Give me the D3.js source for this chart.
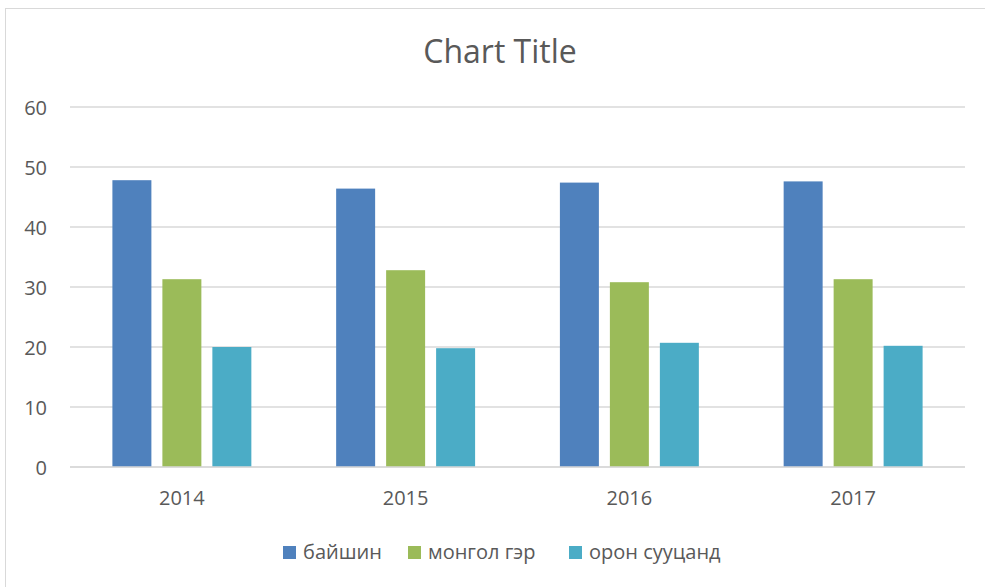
<!DOCTYPE html>
<html>
<head>
<meta charset="utf-8">
<script src="https://cdn.jsdelivr.net/npm/d3@7"></script>
<style>
  body { margin: 0; background: #fff; }
  text { font-family: "Open Sans", sans-serif; fill: #595959; }
</style>
</head>
<body>
<div id="chart"></div>
<script>
// data
const years = ["2014", "2015", "2016", "2017"];
const seriesNames = ["байшин", "монгол гэр", "орон сууцанд"];
const baishin = [47.8, 46.4, 47.4, 47.6];
const mongolGer = [31.3, 32.8, 30.8, 31.3];
const oronSuuts = [20.0, 19.8, 20.7, 20.2];
const yTicks = [0, 10, 20, 30, 40, 50, 60];

const seriesValues = [baishin, mongolGer, oronSuuts];
const colors = ["#4f81bd", "#9bbb59", "#4bacc6"];

const width = 985, height = 587;
const plotLeft = 70, plotRight = 965, plotTop = 107, plotBottom = 467;

const svg = d3.select("#chart").append("svg")
    .attr("width", width)
    .attr("height", height);

// chart area outline
svg.append("rect")
    .attr("x", 5.5).attr("y", 8.5)
    .attr("width", 1000).attr("height", 1000)
    .attr("fill", "none")
    .attr("stroke", "#d9d9d9")
    .attr("stroke-width", 1);

svg.append("text")
    .attr("x", 500)
    .attr("y", 63)
    .attr("text-anchor", "middle")
    .style("font-size", "32px")
    .text("Chart Title");

const y = d3.scaleLinear().domain([0, 60]).range([plotBottom, plotTop]);
const x0 = d3.scaleBand().domain(years).range([plotLeft, plotRight]).padding(0);
const x1 = d3.scaleBand().domain(seriesNames)
    .range([42.4, x0.bandwidth() - 42.4])
    .paddingInner(0.22);

// gridlines
svg.append("g")
    .selectAll("line")
    .data(yTicks)
    .join("line")
    .attr("x1", plotLeft).attr("x2", plotRight)
    .attr("y1", d => y(d)).attr("y2", d => y(d))
    .attr("stroke", "#d9d9d9")
    .attr("stroke-width", 1.3);

// y axis labels
const yAxis = svg.append("g")
    .attr("transform", `translate(${plotLeft - 23},0)`)
    .call(d3.axisLeft(y).tickValues(yTicks).tickSize(0).tickPadding(0));
yAxis.select(".domain").remove();
yAxis.selectAll("text")
    .attr("dy", "0.35em")
    .style("font-size", "20px")
    .style("font-family", "Open Sans, sans-serif")
    .attr("fill", "#595959");

// bars
const groups = svg.append("g")
    .selectAll("g")
    .data(years)
    .join("g")
    .attr("transform", d => `translate(${x0(d)},0)`);

groups.selectAll("rect")
    .data((yr, i) => seriesNames.map((s, j) => ({ s, v: seriesValues[j][i], c: colors[j] })))
    .join("rect")
    .attr("x", d => x1(d.s))
    .attr("width", x1.bandwidth())
    .attr("y", d => y(d.v))
    .attr("height", d => y(0) - y(d.v))
    .attr("fill", d => d.c);

// x axis line + labels
svg.append("line")
    .attr("x1", plotLeft).attr("x2", plotRight)
    .attr("y1", y(0)).attr("y2", y(0))
    .attr("stroke", "#d9d9d9")
    .attr("stroke-width", 1.3);

const xAxis = svg.append("g")
    .attr("transform", `translate(0,${plotBottom})`)
    .call(d3.axisBottom(x0).tickSize(0).tickPadding(0));
xAxis.select(".domain").remove();
xAxis.selectAll("text")
    .attr("y", 38)
    .attr("dy", 0)
    .style("font-size", "20px")
    .style("font-family", "Open Sans, sans-serif")
    .attr("fill", "#595959");

// legend
const legendX = [283, 408, 569];
const legend = svg.append("g")
    .selectAll("g")
    .data(seriesNames)
    .join("g")
    .attr("transform", (d, i) => `translate(${legendX[i]},546)`);
legend.append("rect")
    .attr("width", 13).attr("height", 13)
    .attr("fill", (d, i) => colors[i]);
legend.append("text")
    .attr("x", 20).attr("y", 13)
    .style("font-size", "20px")
    .text(d => d);
</script>
</body>
</html>
